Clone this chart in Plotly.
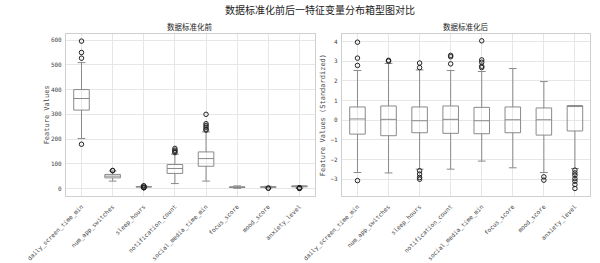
import plotly.graph_objects as go
from plotly.subplots import make_subplots

features = ["daily_screen_time_min", "num_app_switches", "sleep_hours", "notification_count",
            "social_media_time_min", "focus_score", "mood_score", "anxiety_level"]

# Raw (before standardization) box statistics
raw_q1 = [317, 43, 6.2, 61, 90, 4.3, 4.9, 7.0]
raw_med = [364, 50, 7.0, 81, 121, 5.5, 6.0, 10.0]
raw_q3 = [400, 57, 7.8, 97, 148, 6.8, 6.9, 10.0]
raw_lo = [202, 30, 4.0, 20, 30, 0.9, 2.0, 2.6]
raw_hi = [509, 71, 10.0, 139, 229, 10.5, 8.9, 10.0]
raw_outliers = [
    [596, 550, 527, 179],
    [73, 72],
    [10.5, 10.2, 3.9, 3.7, 3.5, 3.4],
    [162, 155, 150, 145],
    [300, 262, 255, 248, 240, 236],
    [],
    [1.7, 1.4],
    [2.5, 2.2, 1.9, 1.5, 1.2, 0.8, 0.3],
]

# Standardized box statistics
std_q1 = [-0.71, -0.79, -0.64, -0.67, -0.69, -0.64, -0.76, -0.55]
std_med = [0.06, 0.04, -0.03, 0.04, -0.03, 0.02, 0.02, 0.74]
std_q3 = [0.67, 0.72, 0.67, 0.72, 0.65, 0.67, 0.62, 0.74]
std_lo = [-2.66, -2.68, -2.49, -2.49, -2.08, -2.42, -2.66, -2.46]
std_hi = [2.52, 2.88, 2.55, 2.52, 2.47, 2.62, 1.96, 0.74]
std_outliers = [
    [3.96, 3.15, 2.78, -3.07],
    [3.04, 3.0],
    [2.9, 2.67, -2.57, -2.74, -2.91, -3.0],
    [3.29, 3.22, 2.86],
    [4.03, 3.06, 2.94, 2.74, 2.67],
    [],
    [-2.88, -3.05],
    [-2.54, -2.68, -2.8, -2.97, -3.1, -3.27, -3.47],
]

left_ticks = [0, 100, 200, 300, 400, 500, 600]
right_ticks = [-3, -2, -1, 0, 1, 2, 3, 4]

positions = list(range(1, len(features) + 1))

fig = make_subplots(rows=1, cols=2, horizontal_spacing=0.05)

BOX_COLOR = "#8a8a8a"
GRID = "#e6e6e6"
FRAME = "#cfcfcf"
MONO = "DejaVu Sans Mono"
TXT = "#444444"


def add_panel(col, q1, med, q3, lo, hi, outliers):
    fig.add_trace(go.Box(x=positions, q1=q1, median=med, q3=q3, lowerfence=lo, upperfence=hi,
                         width=0.5, whiskerwidth=0.5, boxpoints=False,
                         line=dict(color=BOX_COLOR, width=1), fillcolor="rgba(255,255,255,0)",
                         showlegend=False, hoverinfo="skip"), row=1, col=col)
    ox, oy = [], []
    for p, vals in zip(positions, outliers):
        for v in vals:
            ox.append(p)
            oy.append(v)
    fig.add_trace(go.Scatter(x=ox, y=oy, mode="markers",
                             marker=dict(symbol="circle-open", size=4.5, color="#222222",
                                         line=dict(width=1, color="#222222")),
                             showlegend=False, hoverinfo="skip"), row=1, col=col)


add_panel(1, raw_q1, raw_med, raw_q3, raw_lo, raw_hi, raw_outliers)
add_panel(2, std_q1, std_med, std_q3, std_lo, std_hi, std_outliers)

xcommon = dict(range=[0.5, 8.5], tickmode="array", tickvals=positions, ticktext=features,
               tickangle=-45, tickfont=dict(family=MONO, size=6, color=TXT),
               showgrid=True, gridcolor=GRID, gridwidth=1, zeroline=False,
               showline=True, linecolor=FRAME, linewidth=1, mirror=True,
               ticks="outside", ticklen=4, tickcolor="rgba(255,255,255,0)")
ycommon = dict(tickfont=dict(family=MONO, size=6, color=TXT),
               showgrid=True, gridcolor=GRID, gridwidth=1, zeroline=False,
               showline=True, linecolor=FRAME, linewidth=1, mirror=True,
               ticks="outside", ticklen=2, tickcolor="rgba(255,255,255,0)")

fig.update_xaxes(domain=[0.048, 0.492], **xcommon, row=1, col=1)
fig.update_xaxes(domain=[0.540, 0.983], **xcommon, row=1, col=2)
fig.update_yaxes(domain=[0.255, 0.871], range=[-30, 625], tickvals=left_ticks, **ycommon, row=1, col=1)
fig.update_yaxes(domain=[0.255, 0.871], range=[-3.85, 4.38], tickvals=right_ticks, **ycommon, row=1, col=2)

annotations = [
    dict(text="数据标准化前后一特征变量分布箱型图对比", x=0.5, y=1 - 10 / 263, xref="paper", yref="paper",
         showarrow=False, font=dict(family="Noto Sans CJK SC", size=10, color="#222222"),
         xanchor="center", yanchor="middle"),
    dict(text="数据标准化前", x=(0.048 + 0.492) / 2, y=1 - 27 / 263, xref="paper", yref="paper",
         showarrow=False, font=dict(family="Noto Sans CJK SC", size=7.5, color="#222222"),
         xanchor="center", yanchor="middle"),
    dict(text="数据标准化后", x=(0.540 + 0.983) / 2, y=1 - 27 / 263, xref="paper", yref="paper",
         showarrow=False, font=dict(family="Noto Sans CJK SC", size=7.5, color="#222222"),
         xanchor="center", yanchor="middle"),
    dict(text="Feature Values", x=9 / 600, y=(0.255 + 0.871) / 2, xref="paper", yref="paper",
         showarrow=False, textangle=-90, font=dict(family=MONO, size=7, color=TXT),
         xanchor="center", yanchor="middle"),
    dict(text="Feature Values (Standardized)", x=304 / 600, y=(0.255 + 0.871) / 2, xref="paper", yref="paper",
         showarrow=False, textangle=-90, font=dict(family=MONO, size=7, color=TXT),
         xanchor="center", yanchor="middle"),
]

fig.update_layout(width=600, height=263, margin=dict(l=0, r=0, t=0, b=0),
                  paper_bgcolor="white", plot_bgcolor="white", annotations=annotations)

fig.write_html("out.html")
